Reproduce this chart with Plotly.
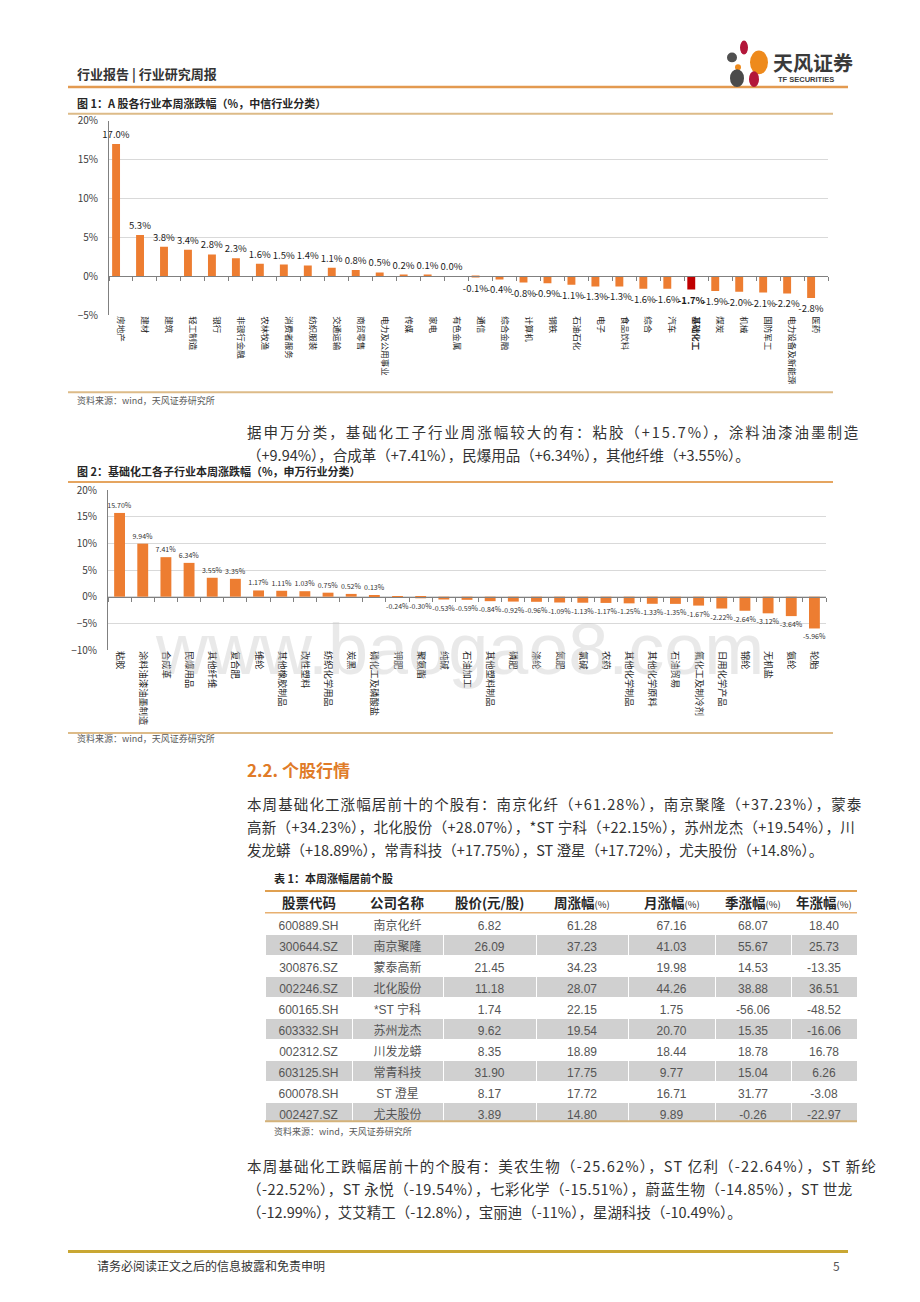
import plotly.graph_objects as go

W, H = 920, 1302
def X(px): return px / W
def Y(py): return 1 - py / H

FONT = "Noto Sans CJK SC"
ORANGE = "#ED7D31"
RED = "#C00000"

# ---------------- data ----------------
citic_industries = ['房地产', '建材', '建筑', '轻工制造', '银行', '非银行金融', '农林牧渔', '消费者服务',
                    '纺织服装', '交通运输', '商贸零售', '电力及公用事业', '传媒', '家电', '有色金属', '通信',
                    '综合金融', '计算机', '钢铁', '石油石化', '电子', '食品饮料', '综合', '汽车', '基础化工',
                    '煤炭', '机械', '国防军工', '电力设备及新能源', '医药']
citic_change = [17.0, 5.3, 3.8, 3.4, 2.8, 2.3, 1.6, 1.5, 1.4, 1.1, 0.8, 0.5, 0.2, 0.1, 0.0, -0.1, -0.4,
                -0.8, -0.9, -1.1, -1.3, -1.3, -1.6, -1.6, -1.7, -1.9, -2.0, -2.1, -2.2, -2.8]
highlight = '基础化工'

sw_subindustries = ['粘胶', '涂料油漆油墨制造', '合成革', '民爆用品', '其他纤维', '复合肥', '维纶', '其他橡胶制品',
                    '改性塑料', '纺织化学用品', '炭黑', '磷化工及磷酸盐', '钾肥', '聚氨酯', '纯碱', '石油加工',
                    '其他塑料制品', '磷肥', '涤纶', '氮肥', '氯碱', '农药', '其他化学制品', '其他化学原料',
                    '石油贸易', '氟化工及制冷剂', '日用化学产品', '锦纶', '无机盐', '氨纶', '轮胎']
sw_change = [15.70, 9.94, 7.41, 6.34, 3.55, 3.35, 1.17, 1.11, 1.03, 0.75, 0.52, 0.13, -0.24, -0.30, -0.53,
             -0.59, -0.84, -0.92, -0.96, -1.09, -1.13, -1.17, -1.25, -1.33, -1.35, -1.67, -2.22, -2.64,
             -3.12, -3.64, -5.96]

tbl_header = ['股票代码', '公司名称', '股价(元/股)', '周涨幅(%)', '月涨幅(%)', '季涨幅(%)', '年涨幅(%)']
tbl_code = ['600889.SH', '300644.SZ', '300876.SZ', '002246.SZ', '600165.SH', '603332.SH', '002312.SZ',
            '603125.SH', '600078.SH', '002427.SZ']
tbl_name = ['南京化纤', '南京聚隆', '蒙泰高新', '北化股份', '*ST 宁科', '苏州龙杰', '川发龙蟒', '常青科技',
            'ST 澄星', '尤夫股份']
tbl_price = [6.82, 26.09, 21.45, 11.18, 1.74, 9.62, 8.35, 31.90, 8.17, 3.89]
tbl_week = [61.28, 37.23, 34.23, 28.07, 22.15, 19.54, 18.89, 17.75, 17.72, 14.80]
tbl_month = [67.16, 41.03, 19.98, 44.26, 1.75, 20.70, 18.44, 9.77, 16.71, 9.89]
tbl_quarter = [68.07, 55.67, 14.53, 38.88, -56.06, 15.35, 18.78, 15.04, 31.77, -0.26]
tbl_year = [18.40, 25.73, -13.35, 36.51, -48.52, -16.06, 16.78, 6.26, -3.08, -22.97]

para1 = ["据申万分类，基础化工子行业周涨幅较大的有：粘胶（+15.7%），涂料油漆油墨制造",
         "（+9.94%），合成革（+7.41%），民爆用品（+6.34%），其他纤维（+3.55%）。"]
para2 = ["本周基础化工涨幅居前十的个股有：南京化纤（+61.28%），南京聚隆（+37.23%），蒙泰",
         "高新（+34.23%），北化股份（+28.07%），*ST 宁科（+22.15%），苏州龙杰（+19.54%），川",
         "发龙蟒（+18.89%），常青科技（+17.75%），ST 澄星（+17.72%），尤夫股份（+14.8%）。"]
para3 = ["本周基础化工跌幅居前十的个股有：美农生物（-25.62%），ST 亿利（-22.64%），ST 新纶",
         "（-22.52%），ST 永悦（-19.54%），七彩化学（-15.51%），蔚蓝生物（-14.85%），ST 世龙",
         "（-12.99%），艾艾精工（-12.8%），宝丽迪（-11%），星湖科技（-10.49%）。"]
# letter spacing (px) used to justify the non-final lines of each paragraph
para1_ls = [1.95, 0]
para2_ls = [1.1, 0.3, 0]
para3_ls = [1.2, 0.48, 0]

fig = go.Figure()

# ---------------- chart 1 ----------------
c1_text = [("<b>%.1f%%</b>" % v) if c == highlight else ("%.1f%%" % v) for c, v in zip(citic_industries, citic_change)]
c1_ticks = [("<b>%s</b>" % c) if c == highlight else c for c in citic_industries]
fig.add_trace(go.Bar(
    x=list(range(len(citic_industries))), y=citic_change,
    marker=dict(color=[RED if c == highlight else ORANGE for c in citic_industries], line=dict(width=0)),
    width=0.33, offset=-0.37,
    text=c1_text, textposition="outside", constraintext="none", cliponaxis=False,
    textfont=dict(size=9.5, color="#1a1a1a", family=FONT),
    xaxis="x", yaxis="y", showlegend=False, hoverinfo="skip"))
fig.add_trace(go.Scatter(x=list(range(len(citic_industries))), y=citic_change, mode="markers",
                         marker=dict(opacity=0), xaxis="x3", yaxis="y", showlegend=False, hoverinfo="skip"))

# ---------------- chart 2 ----------------
fig.add_trace(go.Bar(
    x=list(range(len(sw_subindustries))), y=sw_change,
    marker=dict(color=ORANGE, line=dict(width=0)), width=0.47,
    text=["%.2f%%" % v for v in sw_change], textposition="outside", constraintext="none", cliponaxis=False,
    textfont=dict(size=7, color="#333333", family=FONT),
    xaxis="x2", yaxis="y2", showlegend=False, hoverinfo="skip"))
fig.add_trace(go.Scatter(x=list(range(len(sw_subindustries))), y=sw_change, mode="markers",
                         marker=dict(opacity=0), xaxis="x4", yaxis="y2", showlegend=False, hoverinfo="skip"))

# ---------------- table ----------------
gray = "#D0D0D0"
col_w = [87, 91, 93, 92, 87, 76, 66]
tbl_left, tbl_top, hdr_h, row_h = 265, 893, 22, 21
tbl_right = tbl_left + sum(col_w)
row_colors = ["#FFFFFF" if i % 2 == 0 else gray for i in range(len(tbl_code))]
fig.add_trace(go.Table(
    domain=dict(x=[X(tbl_left), X(tbl_right)], y=[Y(tbl_top + hdr_h + row_h * len(tbl_code) + 2), Y(tbl_top)]),
    columnwidth=col_w,
    header=dict(values=[""] * len(tbl_header), height=hdr_h,
                fill=dict(color="#FFFFFF"), line=dict(color="#FFFFFF", width=0)),
    cells=dict(values=[tbl_code, tbl_name,
                       ["%.2f" % v for v in tbl_price], ["%.2f" % v for v in tbl_week],
                       ["%.2f" % v for v in tbl_month], ["%.2f" % v for v in tbl_quarter],
                       ["%.2f" % v for v in tbl_year]],
               height=row_h, align="center",
               font=dict(size=12, color="#555555", family="Liberation Sans, " + FONT),
               fill=dict(color=[row_colors] * 7), line=dict(color="#FFFFFF", width=1))))

# ---------------- axes ----------------
n1, n2 = len(citic_industries), len(sw_subindustries)
y1_lo, y1_hi, y2_lo, y2_hi = Y(310), Y(113), Y(649), Y(487)
zero1 = y1_lo + (0 - (-5)) / 25 * (y1_hi - y1_lo)
zero2 = y2_lo + (0 - (-10)) / 30 * (y2_hi - y2_lo)

common_y = dict(ticksuffix="%", showgrid=True, gridcolor="#D9D9D9", gridwidth=1, zeroline=False,
                showline=True, linecolor="#808080", linewidth=1, ticks="",
                tickfont=dict(size=10, color="#404040", family=FONT), ticklabelstandoff=8, fixedrange=True)

fig.update_layout(
    width=W, height=H, margin=dict(l=0, r=0, t=0, b=0),
    paper_bgcolor="white", plot_bgcolor="white", showlegend=False,
    font=dict(family=FONT, color="#333333"),
    xaxis=dict(domain=[X(109), X(828)], range=[-0.5, n1 - 0.5], tickmode="array",
               tickvals=list(range(n1)), ticktext=c1_ticks, tickangle=90,
               tickfont=dict(size=8.5, color="#262626", family=FONT), showgrid=False, zeroline=False,
               showline=False, ticks="", anchor="y"),
    xaxis3=dict(overlaying="x", anchor="free", position=zero1, range=[-0.5, n1 - 0.5],
                tickmode="linear", tick0=-0.5, dtick=1, ticks="outside", ticklen=4, tickcolor="#808080",
                showticklabels=False, showgrid=False, zeroline=False, showline=True, linecolor="#808080"),
    yaxis=dict(domain=[y1_lo, y1_hi], range=[-5, 20], dtick=5, anchor="x", **common_y),
    xaxis2=dict(domain=[X(108), X(826)], range=[-0.5, n2 - 0.5], tickmode="array",
                tickvals=list(range(n2)), ticktext=sw_subindustries, tickangle=90,
                tickfont=dict(size=9.3, color="#262626", family=FONT), showgrid=False, zeroline=False,
                showline=False, ticks="", anchor="y2"),
    xaxis4=dict(overlaying="x2", anchor="free", position=zero2, range=[-0.5, n2 - 0.5],
                tickmode="linear", tick0=-0.5, dtick=1, ticks="outside", ticklen=4, tickcolor="#808080",
                showticklabels=False, showgrid=False, zeroline=False, showline=True, linecolor="#808080"),
    yaxis2=dict(domain=[y2_lo, y2_hi], range=[-10, 20], dtick=5, anchor="x2", **common_y),
)

# ---------------- decorations ----------------
shapes = []
def hline(py, x0, x1, color, width):
    shapes.append(dict(type="line", xref="paper", yref="paper", x0=X(x0), x1=X(x1), y0=Y(py), y1=Y(py),
                       line=dict(color=color, width=width), layer="above"))
hline(79, 68, 848, "#E39A50", 2.5)
hline(106, 68, 833, "#DDBB88", 2)
hline(388, 68, 833, "#DDBB88", 2)
hline(479, 68, 833, "#E5A560", 2)
hline(733, 68, 833, "#DDBB88", 2)
hline(tbl_top, tbl_left, tbl_right, "#E0A050", 2)
hline(tbl_top + hdr_h, tbl_left, tbl_right, "#E8B070", 1.5)
hline(tbl_top + hdr_h + row_h * len(tbl_code) + 1, tbl_left, tbl_right, "#D4B27A", 2)
hline(1258, 68, 848, "#C9A733", 3)

def petal(cx, cy, rx, ry, color):
    shapes.append(dict(type="circle", xref="paper", yref="paper", x0=X(cx - rx), x1=X(cx + rx),
                       y0=Y(cy + ry), y1=Y(cy - ry), fillcolor=color, line=dict(width=0), layer="above"))
petal(744, 39, 4, 7, "#B3173A")
petal(732, 49, 5, 5, "#505050")
petal(759, 54, 9, 12, "#EE8A1C")
petal(738, 59, 3, 3, "#EE8A1C")
petal(737, 70, 7, 9, "#4A4A4A")
petal(754, 71, 5, 8, "#B3173A")

ann = []
def text(px, py, s, size, color="#333333", bold=False, xanchor="left", family=FONT):
    ann.append(dict(xref="paper", yref="paper", x=X(px), y=Y(py), text=("<b>%s</b>" % s) if bold else s,
                    showarrow=False, xanchor=xanchor, yanchor="middle",
                    font=dict(size=size, color=color, family=family)))

def para(lines, spacings, y0, dy):
    for i, (s, ls) in enumerate(zip(lines, spacings)):
        t = ('<span style="letter-spacing:%.2fpx">%s</span>' % (ls, s)) if ls else s
        text(245, y0 + i * dy, t, 14.5, "#333333")

text(75, 65, "行业报告 | 行业研究周报", 13, "#333333", bold=True)
text(771, 54, "天风证券", 20, "#3a3a3a", bold=True)
text(776, 71, "TF SECURITIES", 7.5, "#3a3a3a", bold=True, family="Liberation Sans")
text(75, 95, "图 1：A 股各行业本周涨跌幅（%，中信行业分类）", 11, "#262626", bold=True)
text(75, 396, "资料来源：wind，天风证券研究所", 9, "#595959")
para(para1, para1_ls, 428, 23)
text(75, 468, "图 2：基础化工各子行业本周涨跌幅（%，申万行业分类）", 11, "#262626", bold=True)
text(75, 739, "资料来源：wind，天风证券研究所", 9, "#595959")
text(245, 770, "2.2. 个股行情", 17, "#E07B28", bold=True)
para(para2, para2_ls, 804, 23.5)
text(272, 880, "表 1：本周涨幅居前个股", 11, "#262626", bold=True)
# table header labels (centred on the table's columns)
cx = tbl_left
for h, w in zip(tbl_header, col_w):
    if h.endswith("(%)"):
        label = "<b>%s</b><span style='font-size:9.5px'>(%%)</span>" % h[:-3]
    else:
        label = "<b>%s</b>" % h
    text(cx + w / 2, tbl_top + hdr_h / 2 + 0.5, label, 13.5, "#262626", xanchor="center")
    cx += w
text(272, 1136, "资料来源：wind，天风证券研究所", 9, "#595959")
para(para3, para3_ls, 1171, 23)
text(95, 1272, "请务必阅读正文之后的信息披露和免责申明", 12, "#333333")
text(842, 1272, "5", 12, "#555555", xanchor="right")
ann.append(dict(xref="paper", yref="paper", x=X(459), y=Y(648), text="www.baogao8.com", showarrow=False,
                xanchor="center", yanchor="middle",
                font=dict(size=72, color="rgba(200,200,200,0.4)", family="Liberation Sans")))

fig.update_layout(shapes=shapes, annotations=ann)
fig.write_html("out.html", config={"displayModeBar": False},
               post_script="document.body.style.margin='0px';document.body.style.overflow='hidden';")
